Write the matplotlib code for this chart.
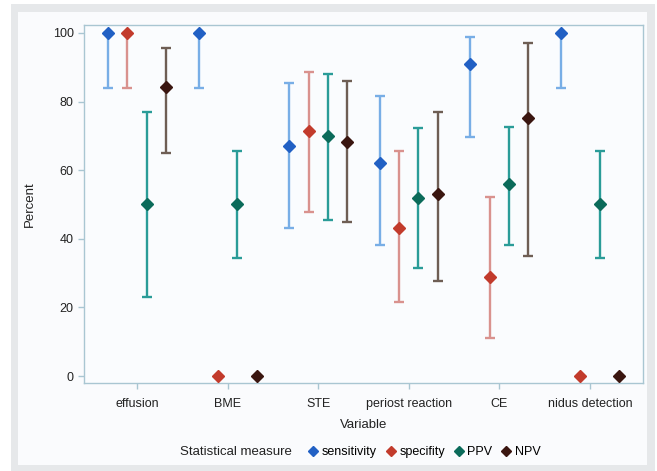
import numpy as np
import matplotlib
matplotlib.use("Agg")
import matplotlib.pyplot as plt
from matplotlib.patches import Rectangle
from matplotlib.lines import Line2D

plt.rcParams['font.family'] = ['Liberation Sans', 'DejaVu Sans']

# 数据
variables = ["effusion", "BME", "STE", "periost reaction", "CE", "nidus detection"]
measures = ["sensitivity", "specifity", "PPV", "NPV"]

sens = [100, 100, 67, 62, 91, 100]
sens_lo = [84, 84, 43, 38.3, 69.6, 84]
sens_hi = [100, 100, 85.3, 81.7, 98.7, 100]

spec = [100, 0, 71.4, 43, 28.8, 0]
spec_lo = [84, None, 47.7, 21.6, 11, None]
spec_hi = [100, None, 88.7, 65.7, 52.1, None]

ppv = [50, 50, 69.9, 52, 56, 50]
ppv_lo = [23.1, 34.3, 45.5, 31.4, 38.2, 34.3]
ppv_hi = [76.8, 65.7, 88, 72.2, 72.7, 65.7]

npv = [84.3, 0, 68.1, 53, 75.3, 0]
npv_lo = [65.1, None, 45, 27.7, 35, None]
npv_hi = [95.5, None, 86, 76.8, 97, None]

series = [
    (sens, sens_lo, sens_hi, "#2160c4", "#78aee6"),
    (spec, spec_lo, spec_hi, "#c23b2c", "#d9928e"),
    (ppv, ppv_lo, ppv_hi, "#0b6b5a", "#2a9c98"),
    (npv, npv_lo, npv_hi, "#3a1610", "#6e5e54"),
]
offsets = [-0.32, -0.107, 0.107, 0.32]

fig = plt.figure(figsize=(6.57, 4.71), dpi=100)
fig.patch.set_facecolor("white")
W, H = 657, 471
# 灰色边框
fig.patches.append(Rectangle((11 / W, 0), 644 / W, 467 / H, transform=fig.transFigure,
                             facecolor="#e6e8ea", edgecolor="none", zorder=-10))
fig.patches.append(Rectangle((18 / W, 6 / H), 629 / W, 453 / H, transform=fig.transFigure,
                             facecolor="#fafbfd", edgecolor="none", zorder=-9))

ax = fig.add_axes([84 / W, 1 - 383 / H, 559 / W, 358 / H])
ax.set_facecolor("#fafcfe")

x = np.arange(len(variables))
for (vals, lo, hi, mcol, bcol), off in zip(series, offsets):
    for i in range(len(variables)):
        xi = x[i] + off
        if lo[i] is not None:
            ax.errorbar([xi], [vals[i]],
                        yerr=[[vals[i] - lo[i]], [hi[i] - vals[i]]],
                        fmt="none", ecolor=bcol, elinewidth=1.7, capsize=3.6,
                        capthick=1.7, zorder=2)
        ax.plot([xi], [vals[i]], marker="D", ms=6.3, color=mcol,
                linestyle="none", zorder=3)

ax.set_xlim(-0.585, 5.585)
ax.set_ylim(-2.04, 102.3)
ax.set_xticks(x)
ax.set_xticklabels(variables)
ax.set_yticks([0, 20, 40, 60, 80, 100])
for s in ax.spines.values():
    s.set_color("#a9c6d2")
    s.set_linewidth(1.0)
ax.tick_params(axis="both", colors="#a9c6d2", length=4, width=1,
               labelcolor="#222222", labelsize=9)
ax.tick_params(axis="x", pad=7)
ax.set_xlabel("Variable", fontsize=9.5, color="#222222", labelpad=6)
ax.set_ylabel("Percent", fontsize=9.5, color="#222222", labelpad=12)

# 图例
fig.text(180 / W, 1 - 452 / H, "Statistical measure", fontsize=9.5,
         color="#222222", va="center", ha="left")
handles = [Line2D([], [], marker="D", ms=5.5, color=c[3], linestyle="none")
           for c in series]
fig.legend(handles, measures, ncol=4, loc="center left",
           bbox_to_anchor=(308 / W, 1 - 452 / H), frameon=False, fontsize=9,
           handletextpad=0.3, columnspacing=0.7, handlelength=0.8,
           borderaxespad=0, borderpad=0)

fig.savefig("out.png", dpi=100)
